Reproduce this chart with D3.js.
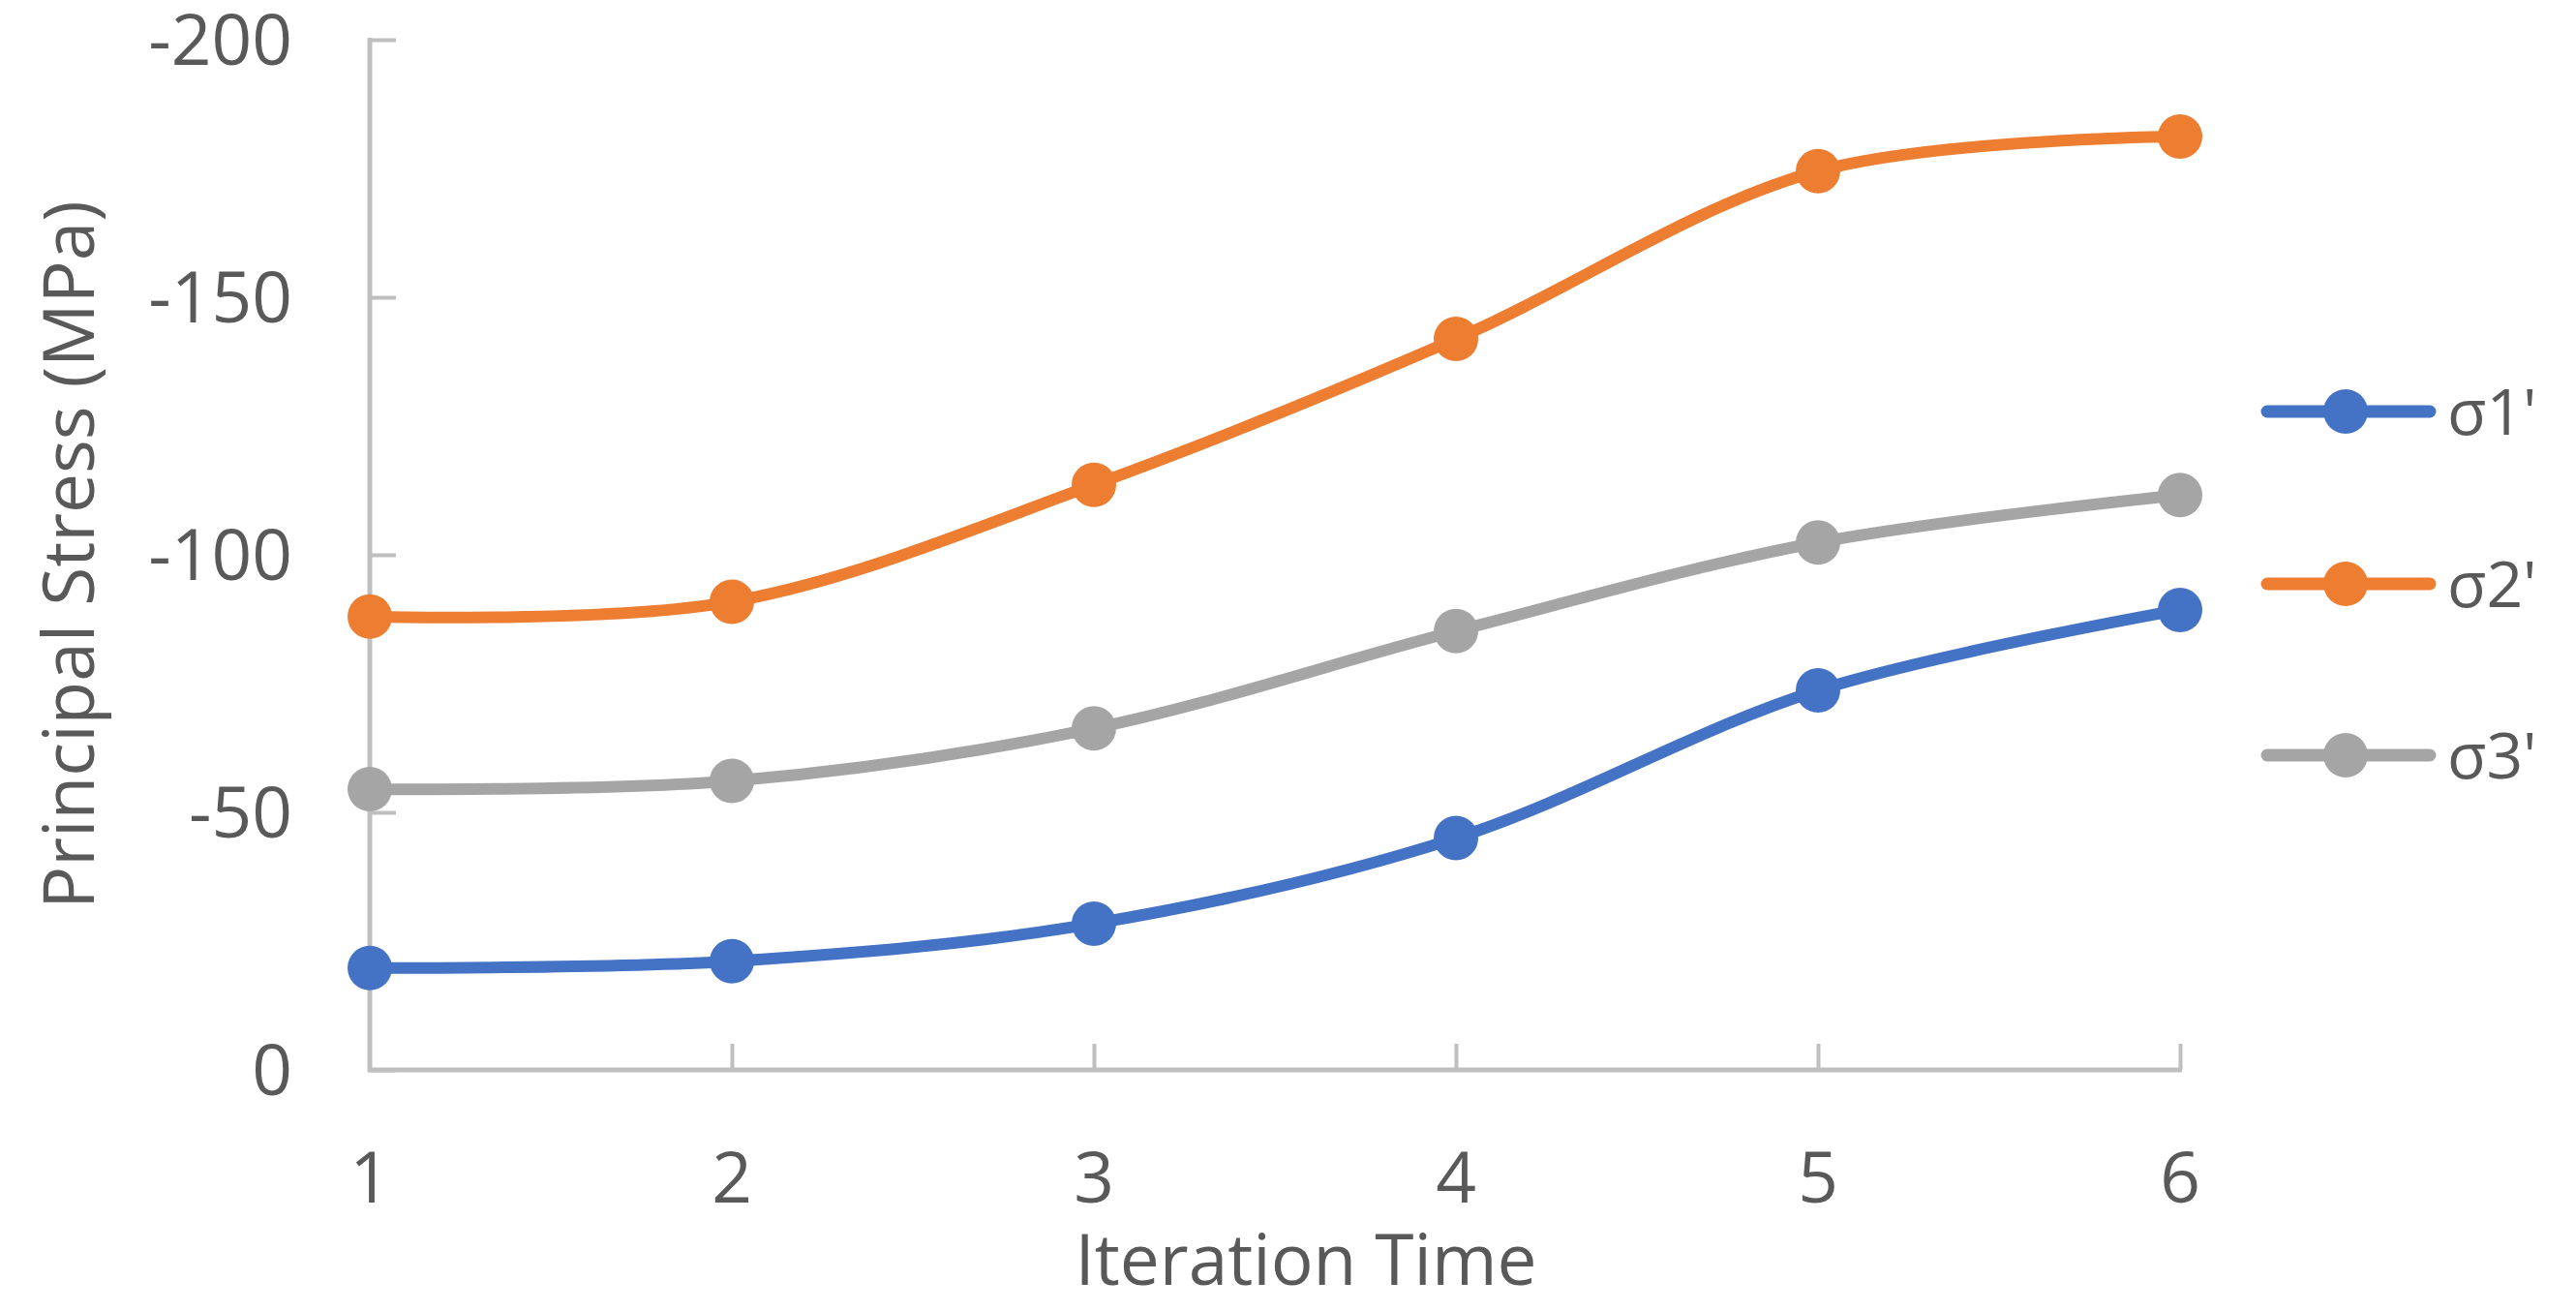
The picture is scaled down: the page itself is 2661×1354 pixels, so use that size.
<!DOCTYPE html>
<html>
<head>
<meta charset="utf-8">
<script src="https://cdn.jsdelivr.net/npm/d3@7"></script>
<style>
  html, body { margin: 0; padding: 0; background: #ffffff; }
  svg { display: block; }
  text { font-family: "Segoe UI", "Open Sans", "Noto Sans", sans-serif; fill: #595959; }
</style>
</head>
<body>
<svg id="chart" width="2661" height="1354"></svg>
<script>
const iterations = [1, 2, 3, 4, 5, 6];
const seriesNames = ["σ1'", "σ2'", "σ3'"];
const sigma1 = [-19.8, -21.1, -28.4, -45.0, -73.7, -89.3];
const sigma2 = [-88.0, -90.9, -113.6, -141.9, -174.5, -181.2];
const sigma3 = [-54.5, -56.1, -66.3, -85.2, -102.4, -111.6];
const yTicks = [0, -50, -100, -150, -200];
const seriesColors = ["#4472C4", "#ED7D31", "#A5A5A5"];
const xTitle = "Iteration Time";
const yTitle = "Principal Stress (MPa)";

const series = [
  { name: seriesNames[0], values: sigma1, color: seriesColors[0] },
  { name: seriesNames[1], values: sigma2, color: seriesColors[1] },
  { name: seriesNames[2], values: sigma3, color: seriesColors[2] }
];

const svg = d3.select("#chart");
const mLeft = 382, mRight = 2252, mTop = 41, mBottom = 1105;

const x = d3.scaleLinear().domain([1, 6]).range([mLeft, mRight]);
const y = d3.scaleLinear().domain([0, -200]).range([mBottom, mTop]);

const axisColor = "#BFBFBF";

// Y axis
const yAxis = svg.append("g").attr("transform", `translate(${mLeft},0)`)
  .call(d3.axisRight(y).tickValues(yTicks).tickSize(27).tickFormat(""));
yAxis.select(".domain").remove();
yAxis.selectAll(".tick line").attr("stroke", axisColor).attr("stroke-width", 4);
svg.append("line").attr("x1", mLeft).attr("x2", mLeft).attr("y1", y(-200) - 2).attr("y2", mBottom + 2)
  .attr("stroke", axisColor).attr("stroke-width", 5);

// X axis
const xAxis = svg.append("g").attr("transform", `translate(0,${mBottom})`)
  .call(d3.axisTop(x).tickValues(iterations.slice(1)).tickSize(27).tickFormat(""));
xAxis.select(".domain").remove();
xAxis.selectAll(".tick line").attr("stroke", axisColor).attr("stroke-width", 4);
svg.append("line").attr("x1", mLeft - 2).attr("x2", mRight + 2).attr("y1", mBottom).attr("y2", mBottom)
  .attr("stroke", axisColor).attr("stroke-width", 5);

// Tick labels
svg.append("g").selectAll("text").data(yTicks).join("text")
  .attr("x", 302).attr("y", d => y(d)).attr("dy", "0.36em")
  .attr("text-anchor", "end").attr("font-size", 73)
  .text(d => d === 0 ? "0" : String(d));

svg.append("g").selectAll("text").data(iterations).join("text")
  .attr("x", d => x(d)).attr("y", 1242)
  .attr("text-anchor", "middle").attr("font-size", 73)
  .text(d => d);

// Titles
svg.append("text").attr("x", 1349).attr("y", 1327).attr("text-anchor", "middle")
  .attr("font-size", 73).text(xTitle);
svg.append("text").attr("transform", `translate(97,573) rotate(-90)`).attr("text-anchor", "middle")
  .attr("font-size", 73).text(yTitle);

// Lines
const line = d3.line().x((d, i) => x(iterations[i])).y(d => y(d)).curve(d3.curveCatmullRom.alpha(0.5));
series.forEach(s => {
  svg.append("path").attr("d", line(s.values)).attr("fill", "none")
    .attr("stroke", s.color).attr("stroke-width", 12).attr("stroke-linejoin", "round");
});
series.forEach(s => {
  svg.append("g").selectAll("circle").data(s.values).join("circle")
    .attr("cx", (d, i) => x(iterations[i])).attr("cy", d => y(d)).attr("r", 23)
    .attr("fill", s.color);
});

// Legend
const legendY = [425, 603, 780];
series.forEach((s, i) => {
  const g = svg.append("g");
  g.append("line").attr("x1", 2342).attr("x2", 2510).attr("y1", legendY[i]).attr("y2", legendY[i])
    .attr("stroke", s.color).attr("stroke-width", 13).attr("stroke-linecap", "round");
  g.append("circle").attr("cx", 2423).attr("cy", legendY[i]).attr("r", 23).attr("fill", s.color);
  g.append("text").attr("x", 2528).attr("y", legendY[i]).attr("dy", "0.36em")
    .attr("font-size", 66).text(s.name);
});
</script>
</body>
</html>
